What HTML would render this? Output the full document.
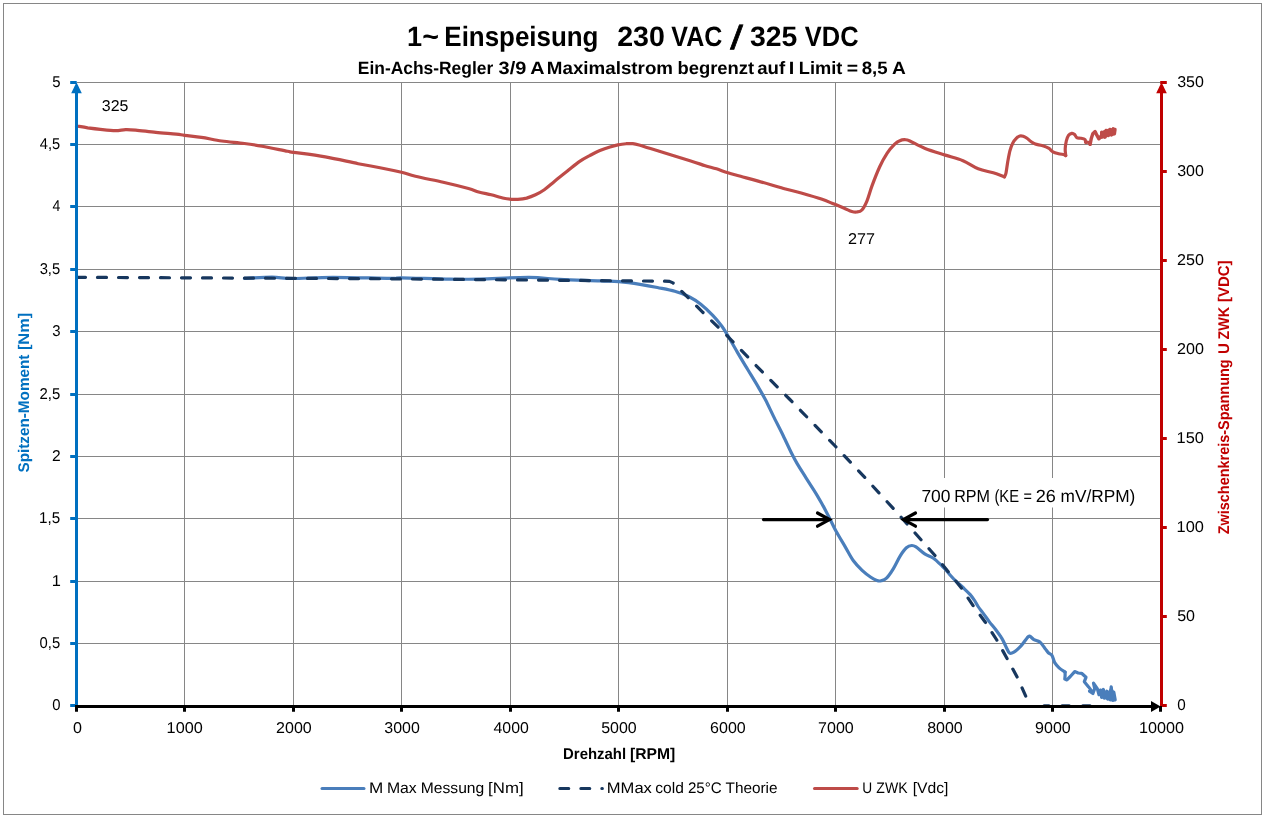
<!DOCTYPE html>
<html lang="de"><head><meta charset="utf-8"><title>1~ Einspeisung 230 VAC / 325 VDC</title>
<style>html,body{margin:0;padding:0;background:#fff;overflow:hidden}svg{display:block}text{font-family:"Liberation Sans",sans-serif;fill:#000}.b{font-weight:bold}</style>
</head><body>
<svg width="1266" height="819" viewBox="0 0 1266 819" text-rendering="geometricPrecision">
<rect x="0" y="0" width="1266" height="819" fill="#fff"/>
<rect x="3.5" y="3.5" width="1258" height="811" fill="#fff" stroke="#868686" stroke-width="1"/>
<path d="M184.5 82V705M293.5 82V705M401.5 82V705M510.5 82V705M618.5 82V705M727.5 82V705M835.5 82V705M944.5 82V705M1052.5 82V705M77 82.5H1160.5M77 144.5H1160.5M77 206.5H1160.5M77 269.5H1160.5M77 331.5H1160.5M77 394.5H1160.5M77 456.5H1160.5M77 518.5H1160.5M77 581.5H1160.5M77 643.5H1160.5" fill="none" stroke="#868686" stroke-width="1"/>
<rect x="916" y="478" width="224" height="29.5" fill="#fff"/>
<g fill="none" stroke-linejoin="round" stroke-linecap="round">
<path d="M244.4 278.3C249 278.1 263.9 277.2 272 277.2C280.1 277.2 282.8 278.5 293 278.5C303.2 278.5 316.8 277.3 333 277.3C349.2 277.3 378.7 278.3 390 278.4C401.3 278.5 391 277.7 401 277.8C411 277.9 436.8 279 450 279.2C463.2 279.4 466.8 279.3 480 279C493.2 278.7 515.7 277.3 529 277.4C542.3 277.5 548.2 278.8 560 279.4C571.8 280 590.2 280.4 600 280.8C609.8 281.2 612.2 281 618.9 281.6C625.6 282.2 633.6 283.3 640 284.3C646.4 285.3 651.6 286.3 657.4 287.5C663.2 288.7 669.6 289.8 674.8 291.3C680 292.8 684.4 294.3 688.7 296.5C693 298.7 696.8 301.1 700.8 304.3C704.8 307.5 709.5 312 713 315.6C716.5 319.2 719.2 322.7 721.7 326C724.2 329.3 725.2 331.2 727.8 335.6C730.4 340 734 346.5 737.3 352.1C740.6 357.8 744.2 363.7 747.7 369.5C751.2 375.3 755.2 381.8 758.2 386.9C761.2 392 763.1 395.1 765.6 400C768.1 404.9 770.5 410.2 773.4 416.1C776.3 422 779.9 428.8 783 435.2C786.1 441.6 789.7 449.5 792.1 454.3C794.5 459.1 795 460 797.3 463.9C799.6 467.8 802.8 472.7 806 477.8C809.2 482.9 813.6 489.5 816.5 494.3C819.4 499.1 821.1 502.3 823.4 506.4C825.6 510.5 827.9 515 830 519.1C832.1 523.2 833.6 526.8 836.1 531.3C838.6 535.8 841.9 541.2 844.8 546.1C847.7 551 850.5 556.8 853.4 560.8C856.3 564.8 859.2 567.6 862.1 570.4C865 573.1 868.3 575.6 870.8 577.3C873.3 579 875.2 579.9 876.9 580.5C878.6 581.1 879.6 581.2 881.2 580.8C882.8 580.4 884.5 580.2 886.5 578.2C888.5 576.2 891.1 572.4 893.4 568.6C895.7 564.8 898.2 559.1 900.4 555.6C902.6 552.1 904.5 549.5 906.4 547.8C908.3 546.1 910.1 545.6 911.7 545.5C913.3 545.4 913.8 545.5 916 546.9C918.2 548.3 921.8 552 924.7 553.9C927.6 555.8 930.5 556.2 933.4 558.2C936.3 560.2 940 564 942.1 566C944.2 568 944.9 568.8 946.3 570.3C947.7 571.8 948.7 573.4 950.3 575.2C951.9 577 953.8 579.1 955.9 581.1C958 583.1 960.6 585.2 963 587.5C965.4 589.8 968.2 592.4 970.2 594.6C972.2 596.9 973.6 599 974.9 601C976.2 603 976.8 604.5 978.1 606.5C979.4 608.5 981 610.4 982.9 612.9C984.8 615.4 987.1 618.8 989.2 621.6C991.3 624.4 993.5 626.7 995.6 629.5C997.7 632.3 1000 635.3 1001.7 638.2C1003.5 641.1 1004.8 644.4 1006.1 646.9C1007.4 649.4 1008.2 652.1 1009.5 653C1010.8 653.9 1012 653.2 1013.9 652.1C1015.8 651 1018.6 648.4 1020.8 646.1C1023 643.8 1025.5 639.9 1026.9 638.2C1028.4 636.5 1028.3 635.9 1029.5 636.1C1030.7 636.3 1032.2 638.6 1033.9 639.6C1035.6 640.6 1038 640.6 1039.9 642.1C1041.8 643.6 1043.8 646.9 1045.2 648.7C1046.7 650.5 1047.4 651.9 1048.6 653C1049.8 654.1 1051.1 654 1052.1 655.6C1053.1 657.2 1053.5 660.6 1054.7 662.6C1055.9 664.6 1057.4 666.2 1059.1 667.8C1060.8 669.4 1064.1 671.4 1065.1 672.1" stroke="#4A7EBB" stroke-width="3.2"/>
<path d="M1065.1 672.1L1065.1 675.6L1064.8 679.1L1066.9 679.9L1070.3 676.5L1074.7 671.6L1078.2 673L1081.6 673.3L1086 677.3L1084.3 681.7L1088.6 686.9L1091.2 690.4L1089.5 691.2L1092.9 693.5L1094.7 688.6L1093.5 683.1L1097.3 688.6L1099 694.7L1100.8 690.4L1101.6 697.3L1103.4 689.5L1104.2 698.2L1106.8 691.2L1107.7 699.1L1109.4 692.1L1110.3 699.9L1111.2 686.9L1112.9 700.4L1113.8 692.1L1115.2 699.9" stroke="#4A7EBB" stroke-width="3.2"/>
<path d="M76.5 277.3L390 278.8L618 280.8L664.3 281.2L669.5 281.4L673 282.9L681.7 291.3L702.6 312.1L727.8 336.5L761.6 371.2L789.4 399L835.6 446.5L865.1 477.8L893.8 509L921.2 540L935.1 555.6L961.2 587.8L973.4 606L985.5 622.5L996.8 640L1006.9 658.2L1017.3 677.3L1026.4 697.6" stroke="#17375E" stroke-width="3.2" stroke-dasharray="9 12"/>
<path d="M1044 705.8H1049M1062 705.8H1069.3M1082.7 705.8H1090.1" stroke="#17375E" stroke-width="3"/>
<path d="M76.5 126C78.4 126.3 83.7 127.2 87.7 127.8C91.7 128.3 95.7 128.8 100.3 129.3C104.9 129.8 111.3 130.6 115.5 130.6C119.7 130.6 122.2 129.7 125.6 129.6C129 129.5 130.6 129.6 135.7 130.1C140.8 130.6 149.2 131.7 155.9 132.4C162.7 133.1 171.4 133.6 176.2 134.1C181 134.6 180.3 134.8 184.5 135.4C188.7 136 195.2 136.5 201.4 137.4C207.6 138.3 214.5 140 221.7 141C228.9 142 237.7 142.6 244.4 143.5C251.1 144.4 254.9 145 262.1 146.3C269.3 147.6 282.2 150.3 287.4 151.3C292.6 152.3 287.2 151.4 293.5 152.3C299.8 153.2 314.5 155 325.3 156.9C336.1 158.8 349.1 161.9 358.2 163.7C367.3 165.5 372.8 166.3 380 167.7C387.2 169.1 395.6 170.9 401.5 172.3C407.4 173.7 408.4 174.7 415.4 176.3C422.3 178 434.3 180.2 443.2 182.2C452.1 184.2 462.6 186.9 468.5 188.5C474.4 190.1 474.8 190.9 478.6 192C482.4 193.1 487 193.8 491.2 194.8C495.4 195.9 500.5 197.6 503.9 198.3C507.3 199.1 509.1 199.1 511.4 199.3C513.7 199.5 515.3 199.5 517.8 199.3C520.3 199.1 523.6 198.8 526.6 198.1C529.6 197.3 532.5 196.2 535.5 194.8C538.5 193.4 541.1 191.9 544.3 189.7C547.4 187.5 550.6 184.5 554.4 181.4C558.2 178.3 562.9 174.6 567.1 171.3C571.3 168 575.9 164 579.7 161.4C583.5 158.8 586.4 157.4 589.8 155.6C593.2 153.8 596.5 152 599.9 150.6C603.3 149.2 606.8 148 610 147C613.2 146 616.1 145.2 618.9 144.7C621.6 144.1 624.2 143.9 626.5 143.7C628.8 143.5 630.7 143.5 632.8 143.7C634.9 143.9 636.1 144.2 639.1 145C642.1 145.8 642 145.9 650.5 148.5C659 151.1 680.9 157.8 690 160.7C699.1 163.6 700.8 164.3 705.2 165.7C709.6 167 712.7 167.6 716.5 168.8C720.3 170 723.9 171.6 727.9 172.8C731.9 174.1 735.5 174.9 740.6 176.3C745.7 177.7 751.1 179.1 758.2 181.1C765.4 183.1 776.3 186.5 783.5 188.5C790.7 190.5 794.9 191.2 801.2 193C807.5 194.8 815.9 197.2 821.4 199.1C826.9 200.9 830.3 202.6 834.1 204.1C837.9 205.6 841.2 207 844.2 208.2C847.2 209.4 849.7 210.9 851.8 211.5C853.9 212.1 855.1 212.2 856.8 212C858.5 211.8 860.2 211.8 861.9 210C863.6 208.2 865.2 205.1 866.9 201.1C868.6 197.1 869.9 191.6 872 185.9C874.1 180.2 877.1 172.5 879.6 167C882.1 161.5 884.7 156.9 887.2 153.1C889.7 149.3 892.6 146.3 894.7 144.2C896.8 142.1 898.1 141.4 899.8 140.7C901.5 139.9 903.2 139.6 904.9 139.7C906.6 139.8 906.5 139.5 909.9 141C913.3 142.5 919.2 146.2 925.1 148.5C931 150.8 939 153.1 945.3 155.1C951.6 157.1 957.5 158.4 963 160.7C968.5 163 973.2 166.8 978.2 168.8C983.2 170.8 988.9 171.5 993.3 172.8C997.7 174.2 1002.5 176.2 1004.4 176.9" stroke="#BE4B48" stroke-width="3.2"/>
<path d="M1004.4 176.9C1004.7 176.2 1005.5 175.5 1006 173C1006.5 170.5 1007.1 165.7 1007.7 162C1008.4 158.3 1009.1 154 1009.9 150.9C1010.7 147.8 1011.6 145.3 1012.7 143.2C1013.8 141.1 1015.3 139.4 1016.5 138.2C1017.7 137 1018.8 136.3 1019.9 136C1021 135.7 1022 135.9 1023.2 136.3C1024.4 136.7 1025.7 137.3 1027 138.2C1028.3 139.1 1029.5 140.5 1030.9 141.5C1032.3 142.5 1033.5 143.4 1035.3 144.1C1037.1 144.8 1039.8 144.9 1042 145.6C1044.2 146.3 1046.8 147.2 1048.6 148.2C1050.4 149.2 1051.3 150.9 1053 151.8C1054.7 152.7 1056.8 153.2 1058.6 153.7C1060.4 154.2 1062.9 154.3 1064.1 154.6C1065.3 154.9 1065.4 155.4 1065.7 155.6" stroke="#BE4B48" stroke-width="3.2"/>
<path d="M1065.7 155.6C1065.6 154.4 1065.1 151.1 1065.2 148.7C1065.3 146.3 1065.8 143.2 1066.3 141C1066.8 138.8 1067.6 136.7 1068.5 135.4C1069.4 134.1 1070.8 133.6 1071.8 133.4C1072.8 133.2 1073.8 133.8 1074.6 134.5C1075.4 135.2 1075.8 137 1076.8 137.6C1077.8 138.2 1079.3 137.9 1080.7 138.2C1082.1 138.5 1084.3 138.9 1085.1 139.6C1085.9 140.3 1085.2 142.2 1085.7 142.6C1086.2 143 1087.2 141.8 1087.9 142.1C1088.6 142.4 1089.7 143.9 1090.1 144.3" stroke="#BE4B48" stroke-width="3.2"/>
<path d="M1090.1 144.3L1091.2 138.8L1092.8 133.8L1095.1 131.6L1096.7 134.9L1098.9 138.8L1101.7 135.4L1101.7 132.1L1105 137.1L1106.1 130.5L1108.3 135.4L1110 129.4L1111.6 134.9L1113.3 128.8L1114.4 133.8L1115 129.4" stroke="#BE4B48" stroke-width="3.4"/>
<path d="M1100.5 133L1103 130.5L1108 128.8L1113 128L1115.5 129L1115.3 133L1114 135.5L1109 136.5L1105 138L1101.5 139L1099.5 137.5Z" fill="#BE4B48" stroke="none"/>
<path d="M1098 689L1101 688.5L1104 690L1108 692L1110.5 687L1112 686.5L1114 692L1115.6 698L1115.5 701L1112 701.5L1106 699.5L1101 698L1098.5 694Z" fill="#4A7EBB" stroke="none"/>
</g>
<path d="M70.2 82.5H76.7M70.2 144.5H76.7M70.2 206.5H76.7M70.2 269.5H76.7M70.2 331.5H76.7M70.2 394.5H76.7M70.2 456.5H76.7M70.2 518.5H76.7M70.2 581.5H76.7M70.2 643.5H76.7M70.2 705.5H76.7" stroke="#0070C0" stroke-width="3" fill="none"/>
<path d="M76.5 90V707" stroke="#0070C0" stroke-width="3" fill="none"/>
<path d="M76.5 82.2L81.8 93.2L71.2 93.2Z" fill="#0070C0"/>
<path d="M1160.2 82.5H1166.8M1160.2 171.5H1166.8M1160.2 260.5H1166.8M1160.2 349.5H1166.8M1160.2 438.5H1166.8M1160.2 527.5H1166.8M1160.2 616.5H1166.8M1160.2 705.5H1166.8" stroke="#C00000" stroke-width="3" fill="none"/>
<path d="M1161.5 90V707" stroke="#C00000" stroke-width="3" fill="none"/>
<path d="M1161.5 82.2L1166.8 93.2L1156.2 93.2Z" fill="#C00000"/>
<path d="M76.5 706V711.7M184.5 706V711.7M293.5 706V711.7M401.5 706V711.7M510.5 706V711.7M618.5 706V711.7M727.5 706V711.7M835.5 706V711.7M944.5 706V711.7M1052.5 706V711.7M1160.5 706V711.7" stroke="#000" stroke-width="3" fill="none"/>
<path d="M75 706.5H1153" stroke="#000" stroke-width="3" fill="none"/>
<path d="M1160.6 706.5L1151 701.1L1151 711.9Z" fill="#000"/>
<g fill="none" stroke="#000" stroke-width="3.2" stroke-linecap="round" stroke-linejoin="miter">
<path d="M763.5 519.6H829"/><path d="M817.5 513L829.5 519.6L817.5 526.2"/>
<path d="M987.5 519.6H904"/><path d="M915.5 513L903.5 519.6L915.5 526.2"/>
</g>
<text xml:space="preserve" y="46" font-size="28" class="b"><tspan x="406.91" y="46" textLength="15.07" lengthAdjust="spacingAndGlyphs">1</tspan><tspan x="422.26" y="46" textLength="16.69" lengthAdjust="spacingAndGlyphs">~</tspan> <tspan x="444.35" y="46" textLength="154.05" lengthAdjust="spacingAndGlyphs">Einspeisung</tspan>   <tspan x="617.20" y="46" textLength="47.67" lengthAdjust="spacingAndGlyphs">230</tspan> <tspan x="671.31" y="46" textLength="50.97" lengthAdjust="spacingAndGlyphs">VAC</tspan> <tspan x="730.20" font-size="33.5" font-weight="normal" style="font-weight:normal;stroke:#000;stroke-width:0.6" y="49" textLength="12.72" lengthAdjust="spacingAndGlyphs">/</tspan> <tspan x="750.06" y="46" textLength="47.35" lengthAdjust="spacingAndGlyphs">325</tspan> <tspan x="804.81" y="46" textLength="53.76" lengthAdjust="spacingAndGlyphs">VDC</tspan></text>
<text xml:space="preserve" y="73.8" font-size="17.8" class="b"><tspan x="357.83" textLength="135.33" lengthAdjust="spacingAndGlyphs">Ein-Achs-Regler</tspan> <tspan x="498.57" textLength="27.71" lengthAdjust="spacingAndGlyphs">3/9</tspan> <tspan x="530.33" textLength="13.58" lengthAdjust="spacingAndGlyphs">A</tspan> <tspan x="546.83" textLength="126.24" lengthAdjust="spacingAndGlyphs">Maximalstrom</tspan> <tspan x="677.40" textLength="76.82" lengthAdjust="spacingAndGlyphs">begrenzt</tspan> <tspan x="757.24" textLength="27.91" lengthAdjust="spacingAndGlyphs">auf</tspan> <tspan x="788.88" textLength="5.54" lengthAdjust="spacingAndGlyphs">I</tspan> <tspan x="798.77" textLength="43.58" lengthAdjust="spacingAndGlyphs">Limit</tspan> <tspan x="846.68" textLength="11.33" lengthAdjust="spacingAndGlyphs">=</tspan> <tspan x="861.69" textLength="25.92" lengthAdjust="spacingAndGlyphs">8,5</tspan> <tspan x="892.12" textLength="13.80" lengthAdjust="spacingAndGlyphs">A</tspan></text>
<text xml:space="preserve" y="86.9" font-size="15.7"><tspan x="52.30" textLength="8.31" lengthAdjust="spacingAndGlyphs">5</tspan></text>
<text xml:space="preserve" y="148.9" font-size="15.7"><tspan x="39.87" textLength="20.32" lengthAdjust="spacingAndGlyphs">4,5</tspan></text>
<text xml:space="preserve" y="210.9" font-size="15.7"><tspan x="52.58" textLength="7.82" lengthAdjust="spacingAndGlyphs">4</tspan></text>
<text xml:space="preserve" y="273.9" font-size="15.7"><tspan x="39.65" textLength="20.55" lengthAdjust="spacingAndGlyphs">3,5</tspan></text>
<text xml:space="preserve" y="335.9" font-size="15.7"><tspan x="52.34" textLength="8.31" lengthAdjust="spacingAndGlyphs">3</tspan></text>
<text xml:space="preserve" y="398.9" font-size="15.7"><tspan x="39.45" textLength="20.75" lengthAdjust="spacingAndGlyphs">2,5</tspan></text>
<text xml:space="preserve" y="460.9" font-size="15.7"><tspan x="52.12" textLength="8.68" lengthAdjust="spacingAndGlyphs">2</tspan></text>
<text xml:space="preserve" y="522.9" font-size="15.7"><tspan x="39.06" textLength="21.15" lengthAdjust="spacingAndGlyphs">1,5</tspan></text>
<text xml:space="preserve" y="585.9" font-size="15.7"><tspan x="51.67" textLength="9.13" lengthAdjust="spacingAndGlyphs">1</tspan></text>
<text xml:space="preserve" y="647.9" font-size="15.7"><tspan x="39.61" textLength="20.59" lengthAdjust="spacingAndGlyphs">0,5</tspan></text>
<text xml:space="preserve" y="709.9" font-size="15.7"><tspan x="52.31" textLength="8.27" lengthAdjust="spacingAndGlyphs">0</tspan></text>
<text xml:space="preserve" y="87" font-size="15.7"><tspan x="1177.20" textLength="26.72" lengthAdjust="spacingAndGlyphs">350</tspan></text>
<text xml:space="preserve" y="176" font-size="15.7"><tspan x="1177.20" textLength="26.72" lengthAdjust="spacingAndGlyphs">300</tspan></text>
<text xml:space="preserve" y="265" font-size="15.7"><tspan x="1176.99" textLength="26.93" lengthAdjust="spacingAndGlyphs">250</tspan></text>
<text xml:space="preserve" y="354" font-size="15.7"><tspan x="1176.99" textLength="26.93" lengthAdjust="spacingAndGlyphs">200</tspan></text>
<text xml:space="preserve" y="443" font-size="15.7"><tspan x="1176.57" textLength="27.36" lengthAdjust="spacingAndGlyphs">150</tspan></text>
<text xml:space="preserve" y="532" font-size="15.7"><tspan x="1176.57" textLength="27.36" lengthAdjust="spacingAndGlyphs">100</tspan></text>
<text xml:space="preserve" y="621" font-size="15.7"><tspan x="1177.16" textLength="17.88" lengthAdjust="spacingAndGlyphs">50</tspan></text>
<text xml:space="preserve" y="710" font-size="15.7"><tspan x="1177.19" textLength="8.50" lengthAdjust="spacingAndGlyphs">0</tspan></text>
<text xml:space="preserve" y="732.8" font-size="15.7"><tspan x="73.05" textLength="8.97" lengthAdjust="spacingAndGlyphs">0</tspan></text>
<text xml:space="preserve" y="732.8" font-size="15.7"><tspan x="166.63" textLength="36.16" lengthAdjust="spacingAndGlyphs">1000</tspan></text>
<text xml:space="preserve" y="732.8" font-size="15.7"><tspan x="276.05" textLength="35.74" lengthAdjust="spacingAndGlyphs">2000</tspan></text>
<text xml:space="preserve" y="732.8" font-size="15.7"><tspan x="384.25" textLength="35.53" lengthAdjust="spacingAndGlyphs">3000</tspan></text>
<text xml:space="preserve" y="732.8" font-size="15.7"><tspan x="493.49" textLength="35.29" lengthAdjust="spacingAndGlyphs">4000</tspan></text>
<text xml:space="preserve" y="732.8" font-size="15.7"><tspan x="601.21" textLength="35.57" lengthAdjust="spacingAndGlyphs">5000</tspan></text>
<text xml:space="preserve" y="732.8" font-size="15.7"><tspan x="710.05" textLength="35.74" lengthAdjust="spacingAndGlyphs">6000</tspan></text>
<text xml:space="preserve" y="732.8" font-size="15.7"><tspan x="818.01" textLength="35.78" lengthAdjust="spacingAndGlyphs">7000</tspan></text>
<text xml:space="preserve" y="732.8" font-size="15.7"><tspan x="927.17" textLength="35.62" lengthAdjust="spacingAndGlyphs">8000</tspan></text>
<text xml:space="preserve" y="732.8" font-size="15.7"><tspan x="1035.09" textLength="35.70" lengthAdjust="spacingAndGlyphs">9000</tspan></text>
<text xml:space="preserve" y="732.8" font-size="15.7"><tspan x="1139.09" textLength="45.04" lengthAdjust="spacingAndGlyphs">10000</tspan></text>
<text xml:space="preserve" y="758.8" font-size="15.5" class="b"><tspan x="563.09" textLength="63.06" lengthAdjust="spacingAndGlyphs">Drehzahl</tspan> <tspan x="629.94" textLength="45.34" lengthAdjust="spacingAndGlyphs">[RPM]</tspan></text>
<text xml:space="preserve" y="0" font-size="15.4" class="b" style="fill:#0070C0" transform="translate(29.3 472.1) rotate(-90)"><tspan x="-0.46" textLength="117.94" lengthAdjust="spacingAndGlyphs">Spitzen-Moment</tspan> <tspan x="122.00" textLength="37.40" lengthAdjust="spacingAndGlyphs">[Nm]</tspan></text>
<text xml:space="preserve" y="0" font-size="15.5" class="b" style="fill:#C00000" transform="translate(1228.9 533.9) rotate(-90)"><tspan x="-0.43" textLength="174.99" lengthAdjust="spacingAndGlyphs">Zwischenkreis-Spannung</tspan> <tspan x="179.80" textLength="10.83" lengthAdjust="spacingAndGlyphs">U</tspan> <tspan x="194.47" textLength="32.67" lengthAdjust="spacingAndGlyphs">ZWK</tspan> <tspan x="231.88" textLength="41.65" lengthAdjust="spacingAndGlyphs">[VDC]</tspan></text>
<text xml:space="preserve" y="111" font-size="15.7"><tspan x="101.80" textLength="26.65" lengthAdjust="spacingAndGlyphs">325</tspan></text>
<text xml:space="preserve" y="244" font-size="15.7"><tspan x="848.09" textLength="27.04" lengthAdjust="spacingAndGlyphs">277</tspan></text>
<text xml:space="preserve" y="501.8" font-size="17.6"><tspan x="921.38" textLength="29.09" lengthAdjust="spacingAndGlyphs">700</tspan> <tspan x="954.17" textLength="35.86" lengthAdjust="spacingAndGlyphs">RPM</tspan> <tspan x="994.38" textLength="24.64" lengthAdjust="spacingAndGlyphs">(KE</tspan> <tspan x="1023.58" textLength="8.43" lengthAdjust="spacingAndGlyphs">=</tspan> <tspan x="1035.70" textLength="20.12" lengthAdjust="spacingAndGlyphs">26</tspan> <tspan x="1060.53" textLength="74.86" lengthAdjust="spacingAndGlyphs">mV/RPM)</tspan></text>
<g fill="none" stroke-linecap="round" stroke-width="3">
<path d="M322 788.5H364" stroke="#4A7EBB"/>
<path d="M559.8 788.5H602.4" stroke="#17375E" stroke-dasharray="9 12"/>
<path d="M814.5 788.5H857.2" stroke="#BE4B48"/>
</g>
<text xml:space="preserve" y="792.7" font-size="15.3"><tspan x="368.92" textLength="14.27" lengthAdjust="spacingAndGlyphs">M</tspan> <tspan x="386.90" textLength="29.78" lengthAdjust="spacingAndGlyphs">Max</tspan> <tspan x="420.81" textLength="63.47" lengthAdjust="spacingAndGlyphs">Messung</tspan> <tspan x="488.08" textLength="35.51" lengthAdjust="spacingAndGlyphs">[Nm]</tspan></text>
<text xml:space="preserve" y="792.7" font-size="15.3"><tspan x="606.83" textLength="45.07" lengthAdjust="spacingAndGlyphs">MMax</tspan> <tspan x="655.34" textLength="28.57" lengthAdjust="spacingAndGlyphs">cold</tspan> <tspan x="687.94" textLength="33.86" lengthAdjust="spacingAndGlyphs">25°C</tspan> <tspan x="725.55" textLength="52.01" lengthAdjust="spacingAndGlyphs">Theorie</tspan></text>
<text xml:space="preserve" y="792.7" font-size="15.3"><tspan x="862.33" textLength="9.93" lengthAdjust="spacingAndGlyphs">U</tspan> <tspan x="876.34" textLength="31.22" lengthAdjust="spacingAndGlyphs">ZWK</tspan> <tspan x="912.66" textLength="35.76" lengthAdjust="spacingAndGlyphs">[Vdc]</tspan></text>
</svg></body></html>
